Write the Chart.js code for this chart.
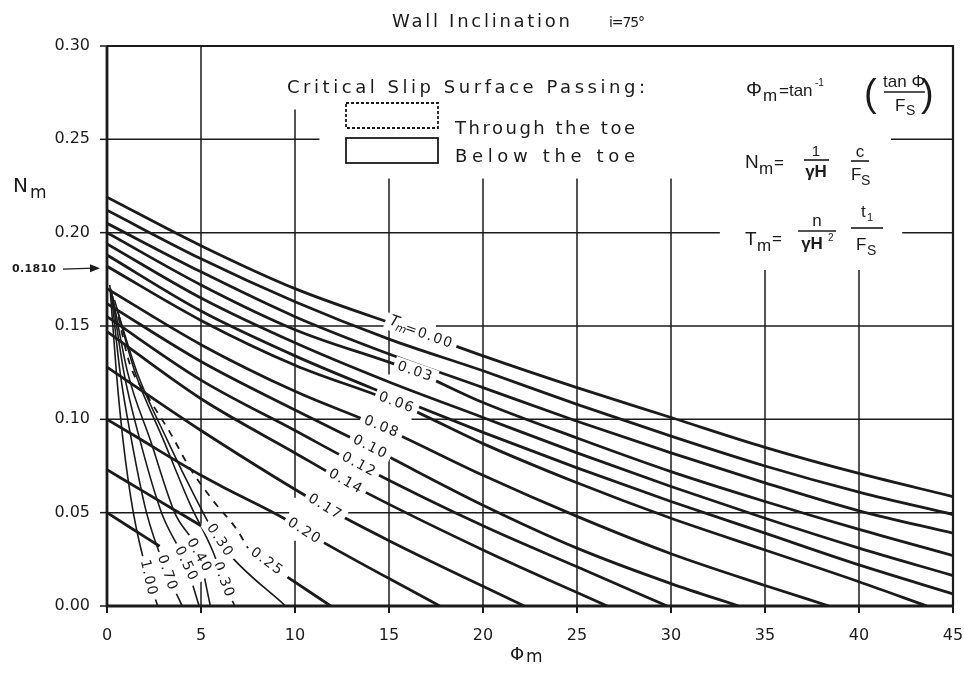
<!DOCTYPE html>
<html><head><meta charset="utf-8">
<script src="https://cdn.jsdelivr.net/npm/chart.js@4.4.1/dist/chart.umd.min.js"></script>
<style>html,body{margin:0;padding:0;background:#fff}</style>
</head><body>
<canvas id="c" width="964" height="675"></canvas>
<script>
// axis ticks
const phiTicks = [0, 5, 10, 15, 20, 25, 30, 35, 40, 45];
const nmTicks = [0, 0.05, 0.10, 0.15, 0.20, 0.25, 0.30];

// critical slip surface below the toe: [phi_m, N_m] for each T_m
const tm000 = [[0,0.219],[5,0.193],[10,0.170],[16.7,0.146],[20,0.134],[25,0.117],[30,0.101],[35,0.085],[40,0.071],[45,0.0586]];
const tm001 = [[0,0.212],[5,0.186],[10,0.163],[15,0.143],[20,0.126],[25,0.108],[30,0.091],[35,0.075],[40,0.061],[45,0.049]];
const tm002 = [[0,0.205],[5,0.179],[10,0.155],[15,0.135],[20,0.117],[25,0.099],[30,0.082],[35,0.066],[40,0.051],[45,0.039]];
const tm003 = [[0,0.200],[5,0.172],[10,0.148],[16.4,0.1254],[20,0.109],[25,0.090],[30,0.072],[35,0.056],[40,0.041],[45,0.027]];
const tm004 = [[0,0.194],[5,0.165],[10,0.141],[15,0.120],[20,0.101],[25,0.082],[30,0.064],[35,0.047],[40,0.031],[45,0.0163]];
const tm005 = [[0,0.188],[5,0.158],[10,0.134],[15,0.113],[20,0.093],[25,0.074],[30,0.056],[35,0.039],[40,0.022],[45,0.0065]];
const tm006 = [[0,0.182],[5,0.153],[10,0.129],[15.4,0.1088],[20,0.087],[25,0.066],[30,0.047],[35,0.030],[40,0.013],[43.6,0]];
const tm008 = [[0,0.170],[5,0.140],[10,0.115],[14.6,0.0959],[20,0.070],[25,0.048],[30,0.028],[35,0.011],[38.4,0]];
const tm010 = [[0,0.162],[5,0.131],[10,0.105],[14.0,0.085],[20,0.054],[25,0.031],[30,0.012],[33.6,0]];
const tm012 = [[0,0.155],[5,0.121],[10,0.094],[13.4,0.0756],[20,0.043],[25,0.021],[29.8,0]];
const tm014 = [[0,0.147],[5,0.111],[10,0.082],[12.7,0.0665],[20,0.030],[26.6,0]];
const tm017 = [[0,0.128],[5,0.094],[11.6,0.053],[15,0.035],[22.2,0]];
const tm020 = [[0,0.100],[1.4,0.0916],[5,0.070],[6.5,0.062],[9.4,0.047],[10.5,0.040],[17.7,0]];
const tm025b = [[9.6,0.0155],[11.9,0]];
const tm030s = [[0,0.073],[2.0,0.061],[3.5,0.052],[5.0,0.043]];
const tm040s = [[0,0.050],[1.4,0.041],[2.8,0.032]];

// steep branches leaving the phi_m = 0 axis
const tm030u = [[0.5,0.160],[1.6,0.125],[3.2,0.089],[4.7,0.058],[5.6,0.041],[6.4,0.029],[9.5,0]];
const tm030l = [[0.4,0.164],[1.5,0.125],[3.0,0.089],[4.4,0.055],[5.6,0.030],[6.4,0.0086],[6.8,0]];
const tm040 = [[0.3,0.166],[1.1,0.125],[2.3,0.089],[3.6,0.050],[4.9,0.027],[5.5,0]];
const tm050 = [[0.25,0.168],[0.9,0.125],[1.75,0.089],[2.9,0.050],[4.2,0.0225],[4.9,0]];
const tm070 = [[0.2,0.170],[0.7,0.125],[1.3,0.089],[2.1,0.050],[3.2,0.0177],[4.0,0]];
const tm100 = [[0.15,0.172],[0.5,0.125],[0.85,0.089],[1.4,0.050],[2.2,0.015],[2.7,0]];

// critical slip surface through the toe
const tm025t = [[0.6,0.155],[1.2,0.130],[2.3,0.110],[3.35,0.093],[4.4,0.074],[5.6,0.057],[6.9,0.041],[7.5,0.031]];

const criticalNm = 0.1810;

const ink = '#1b1b1b';
const DV = '"DejaVu Sans", sans-serif';
const LS = '"Liberation Sans", sans-serif';

const mainCurves = [tm000, tm001, tm002, tm003, tm004, tm005, tm006, tm008, tm010, tm012, tm014, tm017, tm020, tm025b, tm030s, tm040s];
const steepCurves = [tm030u, tm030l, tm040, tm050, tm070, tm100];

const toXY = arr => arr.map(p => ({x: p[0], y: p[1]}));
const datasets = [];
mainCurves.forEach(c => datasets.push({data: toXY(c), borderColor: ink, borderWidth: 2.8, showLine: true, pointRadius: 0, cubicInterpolationMode: 'monotone', fill: false}));
steepCurves.forEach(c => datasets.push({data: toXY(c), borderColor: ink, borderWidth: 1.6, showLine: true, pointRadius: 0, cubicInterpolationMode: 'monotone', fill: false}));
datasets.push({data: toXY(tm025t), borderColor: ink, borderWidth: 1.8, borderDash: [7, 7], showLine: true, pointRadius: 0, cubicInterpolationMode: 'monotone', fill: false});

// grid pieces in data units: vertical [phi, fromNm, toNm], horizontal [Nm, fromPhi, toPhi]
const gridV = [[5,0.044,0.30],[5,0,0.0155],[10,0.058,0.266],[10,0,0.035],[15,0.124,0.229],[15,0,0.082],
  [20,0,0.229],[25,0,0.229],[30,0,0.229],[35,0,0.180],[40,0,0.180]];
const gridH = [[0.25,0,11.3],[0.25,41.7,45],[0.20,0,32.6],[0.20,42.3,45],[0.15,0,15],[0.15,17.5,45],
  [0.10,0,13.5],[0.10,16.2,45],[0.05,0,9.7],[0.05,12.8,45]];

// value labels placed along their curves (curve, phi_m at the label)
const curveLabels = [
  {text:'0.00', curve: tm000, at: 16.7, tm: true},
  {text:'0.03', curve: tm003, at: 16.4},
  {text:'0.06', curve: tm006, at: 15.4},
  {text:'0.08', curve: tm008, at: 14.6},
  {text:'0.10', curve: tm010, at: 14.0},
  {text:'0.12', curve: tm012, at: 13.4},
  {text:'0.14', curve: tm014, at: 12.7},
  {text:'0.17', curve: tm017, at: 11.6},
  {text:'0.20', curve: tm020, at: 10.5},
  {text:'0.25', curve: tm025t.concat(tm025b), at: 8.5},
  {text:'0.30', curve: tm030u, at: 6.0},
  {text:'0.30', curve: tm030l, at: 6.2},
  {text:'0.40', curve: tm040, at: 4.9},
  {text:'0.50', curve: tm050, at: 4.2},
  {text:'0.70', curve: tm070, at: 3.2},
  {text:'1.00', curve: tm100, at: 2.2}
];

function pointOn(curve, phi, xs, ys) {
  for (let i = 0; i < curve.length - 1; i++) {
    const a = curve[i], b = curve[i + 1];
    if ((phi >= a[0] && phi <= b[0]) || i === curve.length - 2) {
      const t = (phi - a[0]) / (b[0] - a[0]);
      const ax = xs.getPixelForValue(a[0]), ay = ys.getPixelForValue(a[1]);
      const bx = xs.getPixelForValue(b[0]), by = ys.getPixelForValue(b[1]);
      return {x: ax + (bx - ax) * t, y: ay + (by - ay) * t, ang: Math.atan2(by - ay, bx - ax)};
    }
  }
}

// text helper; with `width` the letter spacing is stretched so the run spans that width
function txt(ctx, s, x, y, size, opt) {
  opt = opt || {};
  ctx.font = (opt.style || '') + ' ' + size + 'px ' + (opt.family || DV);
  ctx.letterSpacing = '0px';
  let ls = opt.ls || 0;
  if (opt.width) {
    const nat = ctx.measureText(s).width;
    ls = (opt.width - nat) / Math.max(1, s.length - 1);
  }
  ctx.letterSpacing = ls + 'px';
  ctx.textAlign = opt.align || 'left';
  ctx.textBaseline = 'alphabetic';
  ctx.fillStyle = ink;
  ctx.fillText(s, x, y);
  ctx.letterSpacing = '0px';
}

const decor = {
  id: 'decor',
  beforeDatasetsDraw(chart) {
    const ctx = chart.ctx, xs = chart.scales.x, ys = chart.scales.y;
    const X = v => xs.getPixelForValue(v), Y = v => ys.getPixelForValue(v);
    ctx.save();
    ctx.strokeStyle = ink;
    ctx.lineCap = 'butt';
    ctx.lineWidth = 1.5;
    gridV.forEach(g => { ctx.beginPath(); ctx.moveTo(X(g[0]), Y(g[1])); ctx.lineTo(X(g[0]), Y(g[2])); ctx.stroke(); });
    gridH.forEach(g => { ctx.beginPath(); ctx.moveTo(X(g[1]), Y(g[0])); ctx.lineTo(X(g[2]), Y(g[0])); ctx.stroke(); });
    // tick marks
    nmTicks.forEach(v => { ctx.beginPath(); ctx.moveTo(X(0) - 7, Y(v)); ctx.lineTo(X(0), Y(v)); ctx.stroke(); });
    ctx.lineWidth = 2;
    phiTicks.forEach(v => { ctx.beginPath(); ctx.moveTo(X(v), Y(0)); ctx.lineTo(X(v), Y(0) + 7); ctx.stroke(); });
    // frame
    ctx.lineWidth = 2.2;
    ctx.beginPath(); ctx.moveTo(X(0), Y(0.30)); ctx.lineTo(X(45), Y(0.30)); ctx.lineTo(X(45), Y(0)); ctx.stroke();
    ctx.lineWidth = 2.8;
    ctx.beginPath(); ctx.moveTo(X(0), Y(0.30)); ctx.lineTo(X(0), Y(0)); ctx.lineTo(X(45), Y(0)); ctx.stroke();
    ctx.restore();
  },
  afterDatasetsDraw(chart) {
    const ctx = chart.ctx, xs = chart.scales.x, ys = chart.scales.y;
    const Y = v => ys.getPixelForValue(v);
    ctx.save();
    // curve labels
    curveLabels.forEach(l => {
      const p = pointOn(l.curve, l.at, xs, ys);
      ctx.save();
      ctx.translate(p.x, p.y);
      ctx.rotate(p.ang);
      ctx.font = '14px ' + DV;
      ctx.letterSpacing = '1.5px';
      const body = l.tm ? '=' + l.text : l.text;
      const wb = ctx.measureText(body).width;
      const wp = l.tm ? 17 : 0;
      const w = wb + wp;
      ctx.fillStyle = '#fff';
      ctx.fillRect(-w / 2 - 4, -9, w + 8, 17);
      ctx.fillStyle = ink;
      ctx.textBaseline = 'middle';
      ctx.textAlign = 'left';
      if (l.tm) {
        ctx.letterSpacing = '0px';
        ctx.font = 'italic 15px ' + DV;
        ctx.fillText('T', -w / 2, -2);
        ctx.font = 'italic 11px ' + DV;
        ctx.fillText('m', -w / 2 + 8, 3);
        ctx.font = '14px ' + DV; ctx.letterSpacing = '1.5px';
      }
      ctx.fillText(body, -w / 2 + wp, 0);
      ctx.restore();
    });
    ctx.letterSpacing = '0px';

    // title
    txt(ctx, 'Wall Inclination', 392, 27, 18, {width: 178});
    txt(ctx, 'i=75°', 609, 27, 14, {width: 36});

    // axis titles
    txt(ctx, 'N', 13, 192, 20);
    txt(ctx, 'm', 30, 198, 17);
    txt(ctx, 'Φ', 510, 660, 18);
    txt(ctx, 'm', 526, 662, 17);

    // critical N_m marker
    txt(ctx, criticalNm.toFixed(4), 12, Y(criticalNm) + 4, 11, {style: 'bold', width: 44});
    ctx.strokeStyle = ink; ctx.lineWidth = 1.4;
    ctx.beginPath(); ctx.moveTo(63, Y(criticalNm) + 1); ctx.lineTo(94, Y(criticalNm)); ctx.stroke();
    ctx.fillStyle = ink;
    ctx.beginPath(); ctx.moveTo(100, Y(criticalNm)); ctx.lineTo(90, Y(criticalNm) - 4); ctx.lineTo(90, Y(criticalNm) + 4); ctx.closePath(); ctx.fill();

    // legend
    txt(ctx, 'Critical Slip Surface Passing:', 287, 93, 18, {width: 358});
    ctx.lineWidth = 1.8;
    ctx.setLineDash([3, 2]);
    ctx.strokeRect(346, 103, 92, 25);
    ctx.setLineDash([]);
    ctx.strokeRect(346, 138, 92, 25);
    txt(ctx, 'Through the toe', 455, 134, 18, {width: 180});
    txt(ctx, 'Below the toe', 455, 162, 18, {width: 180});

    // formulas
    txt(ctx, 'Φ', 746, 96, 20, {family: LS});
    txt(ctx, 'm', 763, 101, 17, {family: LS});
    txt(ctx, '=tan', 779, 96, 17, {family: LS});
    txt(ctx, '-1', 815, 86, 10, {family: LS});
    txt(ctx, '(', 864, 106, 38, {family: LS, style: '300'});
    txt(ctx, 'tan Φ', 904, 87, 17, {family: LS, align: 'center'});
    ctx.lineWidth = 1.6;
    ctx.beginPath(); ctx.moveTo(884, 92); ctx.lineTo(925, 92); ctx.stroke();
    txt(ctx, 'F', 895, 111, 17, {family: LS});
    txt(ctx, 'S', 906, 115, 14, {family: LS});
    txt(ctx, ')', 921, 106, 38, {family: LS, style: '300'});

    txt(ctx, 'N', 745, 168, 19, {family: LS});
    txt(ctx, 'm', 759, 174, 17, {family: LS});
    txt(ctx, '=', 774, 168, 17, {family: LS});
    txt(ctx, '1', 816, 156, 15, {family: LS, align: 'center'});
    ctx.beginPath(); ctx.moveTo(804, 160); ctx.lineTo(829, 160); ctx.stroke();
    txt(ctx, 'γH', 816, 177, 17, {family: LS, align: 'center', style: 'bold'});
    txt(ctx, 'c', 860, 157, 17, {family: LS, align: 'center'});
    ctx.beginPath(); ctx.moveTo(851, 161); ctx.lineTo(869, 161); ctx.stroke();
    txt(ctx, 'F', 851, 180, 17, {family: LS});
    txt(ctx, 'S', 861, 185, 14, {family: LS});

    txt(ctx, 'T', 745, 245, 19, {family: LS});
    txt(ctx, 'm', 757, 251, 17, {family: LS});
    txt(ctx, '=', 772, 244, 17, {family: LS});
    txt(ctx, 'n', 817, 226, 17, {family: LS, align: 'center'});
    ctx.beginPath(); ctx.moveTo(798, 231); ctx.lineTo(836, 231); ctx.stroke();
    txt(ctx, 'γH', 812, 249, 17, {family: LS, align: 'center', style: 'bold'});
    txt(ctx, '2', 828, 241, 10, {family: LS});
    txt(ctx, 't', 861, 217, 17, {family: LS});
    txt(ctx, '1', 867, 221, 11, {family: LS});
    ctx.beginPath(); ctx.moveTo(851, 228); ctx.lineTo(883, 228); ctx.stroke();
    txt(ctx, 'F', 856, 250, 17, {family: LS});
    txt(ctx, 'S', 867, 255, 14, {family: LS});
    ctx.restore();
  }
};

new Chart(document.getElementById('c').getContext('2d'), {
  type: 'scatter',
  data: {datasets},
  options: {
    responsive: false, animation: false, devicePixelRatio: 1,
    layout: {padding: {left: 0, right: 11, top: 46, bottom: 0}},
    plugins: {legend: {display: false}, tooltip: {enabled: false}, title: {display: false}},
    elements: {line: {borderCapStyle: 'butt'}},
    scales: {
      x: {
        type: 'linear', min: 0, max: 45,
        grid: {display: false, drawTicks: false}, border: {display: false},
        afterBuildTicks: s => { s.ticks = phiTicks.map(v => ({value: v})); },
        afterFit: s => { s.height = 69; s.paddingLeft = 0; s.paddingRight = 0; },
        ticks: {font: {family: 'DejaVu Sans', size: 16}, color: ink, padding: 20, maxRotation: 0, autoSkip: false,
          callback: v => String(v)}
      },
      y: {
        type: 'linear', min: 0, max: 0.30,
        grid: {display: false, drawTicks: false}, border: {display: false},
        afterBuildTicks: s => { s.ticks = nmTicks.map(v => ({value: v})); },
        afterFit: s => { s.width = 107; s.paddingTop = 0; s.paddingBottom = 0; },
        ticks: {font: {family: 'DejaVu Sans', size: 16}, color: ink, padding: 17, autoSkip: false,
          callback: v => Number(v).toFixed(2)}
      }
    }
  },
  plugins: [decor]
});
</script>
</body></html>
